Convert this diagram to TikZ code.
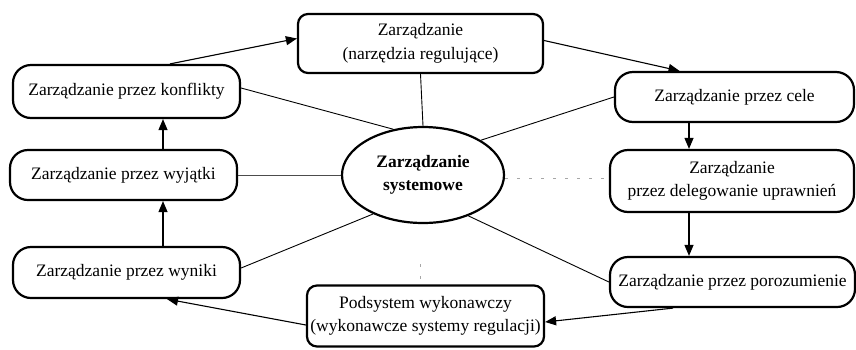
\documentclass[tikz,border=0pt]{standalone}
\usepackage{fontspec}
\setmainfont{Liberation Serif}
\usetikzlibrary{arrows.meta,calc,shapes.geometric}
\tikzset{
  box/.style={draw, line width=2.2pt, rounded corners=18pt, inner sep=0pt, align=center,
    font=\fontsize{17.5}{23.5}\selectfont},
  sqbox/.style={box, rounded corners=10pt},
  conn/.style={line width=1.1pt, -{Triangle[length=11pt,width=9pt]}},
  spoke/.style={line width=0.9pt},
  faint/.style={line width=0.7pt, black!35, dash pattern=on 3pt off 9pt},
}
\begin{document}
\begin{tikzpicture}[x=1pt,y=-1pt]
\useasboundingbox (0,0) rectangle (856,349);
\node[sqbox, minimum width=245pt, minimum height=59pt] (top) at (420.5,43.5) {Zarządzanie\\(narzędzia regulujące)};
\node[box, minimum width=227pt, minimum height=53pt] (konf) at (126.5,91.5) {Zarządzanie przez konflikty};
\node[box, minimum width=227pt, minimum height=50pt] (wyj) at (123.5,175) {Zarządzanie przez wyjątki};
\node[box, minimum width=227pt, minimum height=51pt] (wyn) at (126.5,272.5) {Zarządzanie przez wyniki};
\node[sqbox, minimum width=237pt, minimum height=61pt] (pod) at (425.5,316) {Podsystem wykonawczy\\(wykonawcze systemy regulacji)};
\node[box, minimum width=239pt, minimum height=50pt] (cele) at (734.5,97) {Zarządzanie przez cele};
\node[box, minimum width=244pt, minimum height=62pt] (del) at (732,181) {Zarządzanie\\przez delegowanie uprawnień};
\node[box, minimum width=245pt, minimum height=50pt] (por) at (732.5,282) {Zarządzanie przez porozumienie};
\node[ellipse, draw, line width=2.2pt, minimum width=162pt, minimum height=96pt, inner sep=0pt, align=center,
  font=\fontsize{17.5}{23}\selectfont\bfseries] (sys) at (423,175) {Zarządzanie\\systemowe};

% faint traces
\draw[faint] (sys.east |- 0,178) -- (del.west |- 0,178);
\draw[faint] ($(pod.north)+(-5,-20)$) -- ($(pod.north)+(-5,0)$);

% spokes
\draw[spoke] (konf.east |- 0,88) -- (sys.123);
\draw[spoke] (top.south) -- (sys.north);
\draw[spoke] (cele.west) -- (sys.31);
\draw[spoke, black!70] (wyj.east) -- (sys.west);
\draw[spoke] (wyn.east |- 0,268) -- (sys.218);
\draw[spoke] (por.west) -- (sys.318);

% arrows
\draw[conn] ($(konf.north)+(43.5,0)$) -- ($(top.west)+(0,-5)$);
\draw[conn] ($(top.east)+(0,-3)$) -- ($(cele.north)+(-55,0)$);
\draw[conn] ($(cele.south)+(-45.5,0)$) -- ($(del.north)+(-43,0)$);
\draw[conn] ($(del.south)+(-43,0)$) -- ($(por.north)+(-43.5,0)$);
\draw[conn] ($(por.south)+(-59.5,0)$) -- ($(pod.east)+(0,6)$);
\draw[conn] ($(pod.west)+(0,9)$) -- ($(wyn.south)+(40.5,0)$);
\draw[conn] ($(wyn.north)+(36.5,0)$) -- ($(wyj.south)+(39.5,0)$);
\draw[conn] ($(wyj.north)+(39.5,0)$) -- ($(konf.south)+(36.5,0)$);
\end{tikzpicture}
\end{document}
